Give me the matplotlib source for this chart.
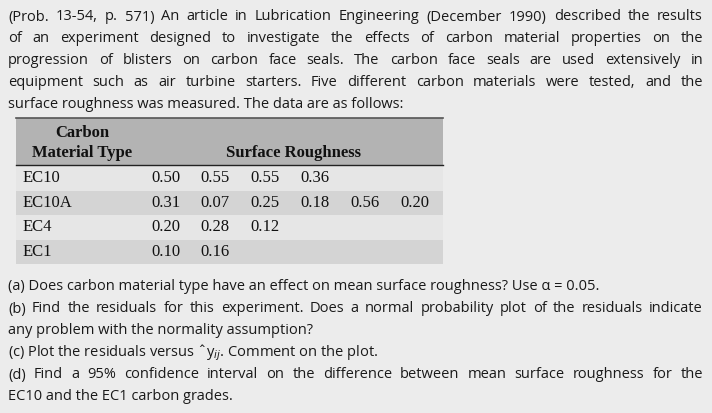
import matplotlib
matplotlib.use("Agg")
import matplotlib.pyplot as plt
from matplotlib.patches import Rectangle

materials = ["EC10", "EC10A", "EC4", "EC1"]
roughness = [
    [0.50, 0.55, 0.55, 0.36],
    [0.31, 0.07, 0.25, 0.18, 0.56, 0.20],
    [0.20, 0.28, 0.12],
    [0.10, 0.16],
]

intro = [
    "(Prob. 13-54, p. 571) An article in Lubrication Engineering (December 1990) described the results",
    "of an experiment designed to investigate the effects of carbon material properties on the",
    "progression of blisters on carbon face seals. The carbon face seals are used extensively in",
    "equipment such as air turbine starters. Five different carbon materials were tested, and the",
    "surface roughness was measured. The data are as follows:",
]
questions = [
    "(a) Does carbon material type have an effect on mean surface roughness? Use \u03b1 = 0.05.",
    "(b) Find the residuals for this experiment. Does a normal probability plot of the residuals indicate",
    "any problem with the normality assumption?",
    "(c) Plot the residuals versus \u02c6y$_{ij}$. Comment on the plot.",
    "(d) Find a 95% confidence interval on the difference between mean surface roughness for the",
    "EC10 and the EC1 carbon grades.",
]
justified_q = [False, True, False, False, True, False]

W, H = 712, 413
fig = plt.figure(figsize=(W / 100, H / 100), dpi=100)
fig.patch.set_facecolor("#ececec")
ax = fig.add_axes([0, 0, 1, 1])
ax.set_xlim(0, W)
ax.set_ylim(H, 0)
ax.axis("off")
fig.canvas.draw()
renderer = fig.canvas.get_renderer()

SANS = dict(family="Open Sans", fontsize=10.5, color="#1a1a1a", va="center")
SERIF = dict(family="Liberation Serif", fontsize=12, color="#111111", va="center")


def text_width(s, **kw):
    t = ax.text(0, 0, s, **kw)
    bb = t.get_window_extent(renderer)
    t.remove()
    return bb.width


def draw_line(s, x0, x1, y, justify):
    if not justify:
        ax.text(x0, y, s, **SANS)
        return
    words = s.split(" ")
    widths = [text_width(w, **SANS) for w in words]
    gap = (x1 - x0 - sum(widths)) / (len(words) - 1)
    x = x0
    for w, wd in zip(words, widths):
        ax.text(x, y, w, **SANS)
        x += wd + gap


for i, line in enumerate(intro):
    draw_line(line, 8, 703, 17 + i * 22, i < len(intro) - 1)

# table
tx0, tx1 = 16, 443
ax.add_patch(Rectangle((tx0, 118), tx1 - tx0, 47, color="#b3b3b3", lw=0))
ax.plot([tx0, tx1], [118, 118], color="#555555", lw=1.2)
ax.plot([tx0, tx1], [165, 165], color="#222222", lw=1.0)
ax.text(82, 133, "Carbon", fontweight="bold", ha="center", **SERIF)
ax.text(82, 153, "Material Type", fontweight="bold", ha="center", **SERIF)
ax.text(294, 153, "Surface Roughness", fontweight="bold", ha="center", **SERIF)
row_h = 24.5
for r, (name, vals) in enumerate(zip(materials, roughness)):
    top = 166 + r * row_h
    ax.add_patch(Rectangle((tx0, top), tx1 - tx0, row_h,
                           color="#e6e6e6" if r % 2 == 0 else "#d4d4d4", lw=0))
    yc = top + row_h / 2
    ax.text(23, yc, name, **SERIF)
    for c, v in enumerate(vals):
        ax.text(151 + c * 49.8, yc, f"{v:.2f}", **SERIF)

for i, line in enumerate(questions):
    draw_line(line, 8, 703, 287 + i * 22, justified_q[i])

fig.savefig("out.png", dpi=100, facecolor=fig.get_facecolor())
